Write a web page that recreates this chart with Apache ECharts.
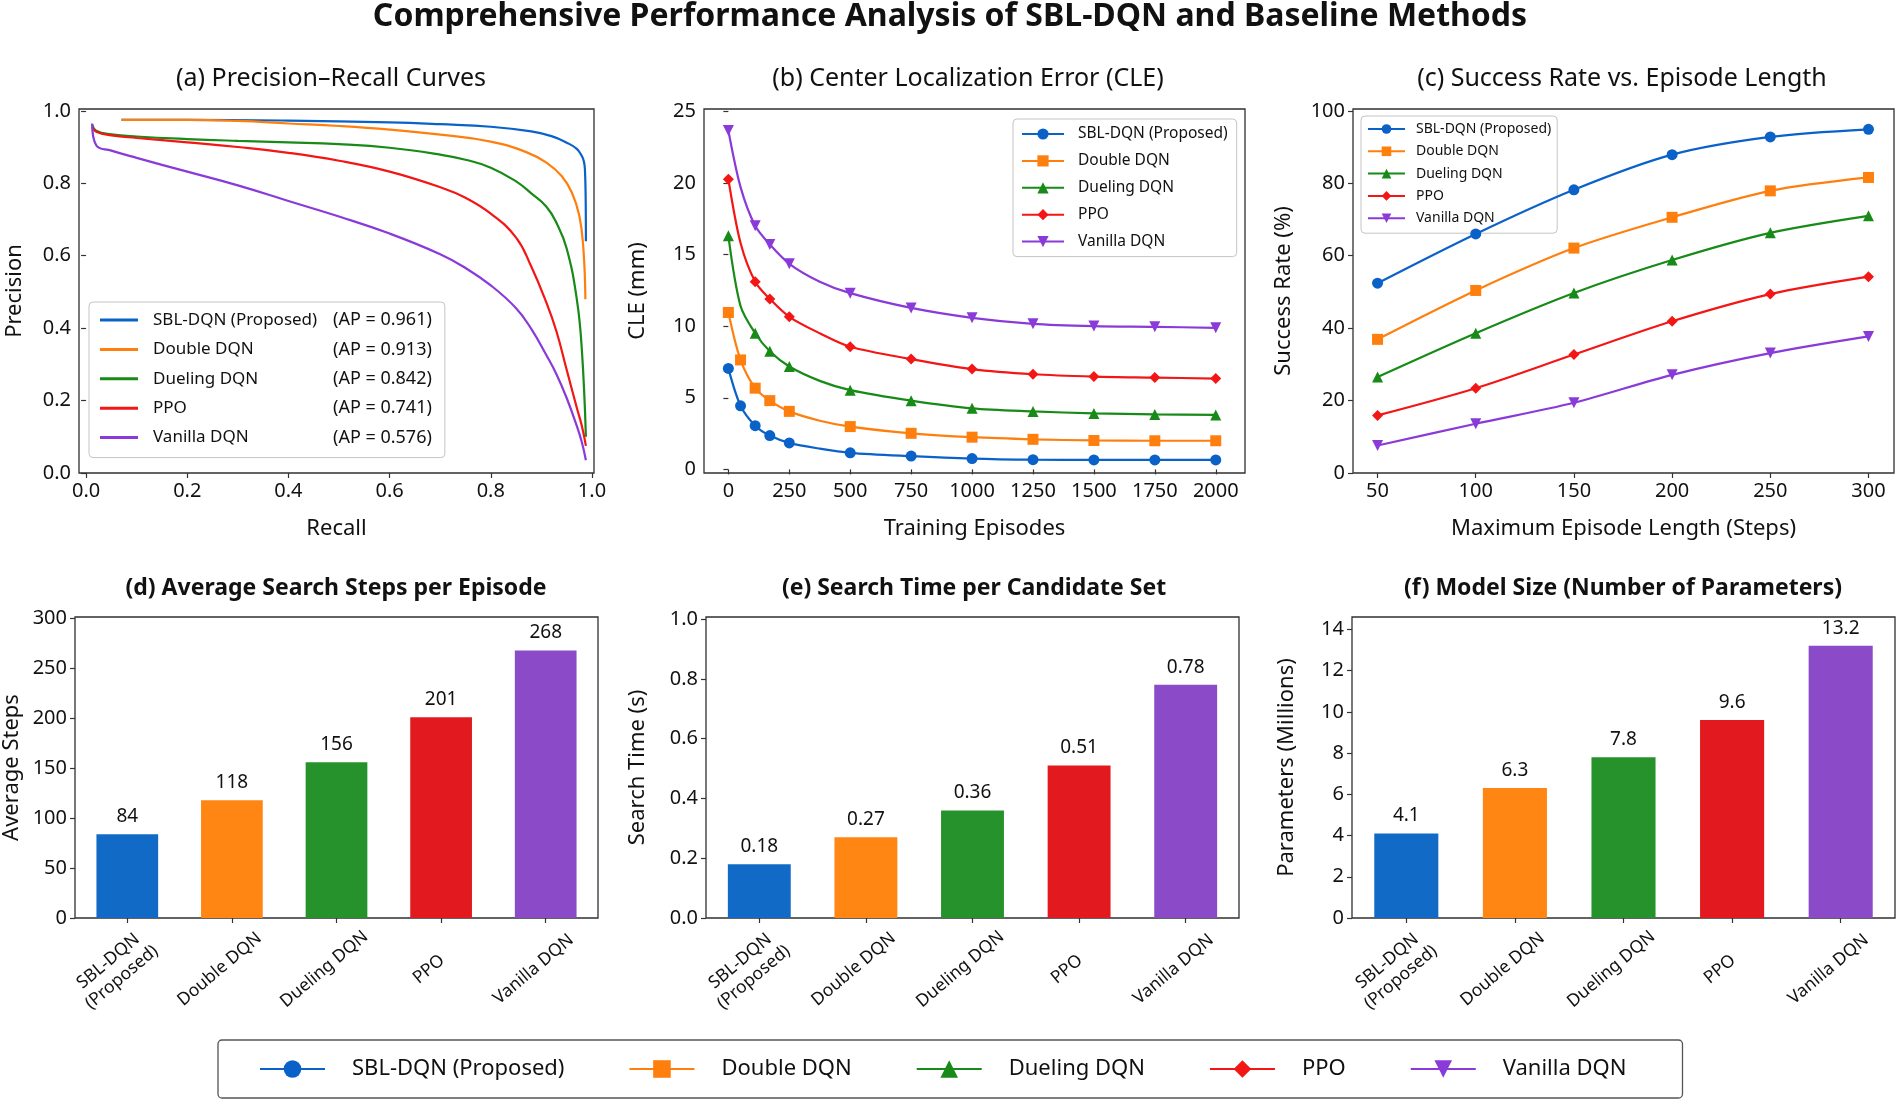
<!DOCTYPE html>
<html>
<head>
<meta charset="utf-8">
<title>SBL-DQN performance analysis</title>
<script src="https://cdn.jsdelivr.net/npm/echarts@6/dist/echarts.min.js"></script>
<style>
    html, body { margin: 0; padding: 0; background: #fff; }
    #chart { width: 1900px; height: 1103px; }
</style>
</head>
<body>
<div id="chart"></div>
<script>
// method names, shared by every panel
var methods = ['SBL-DQN (Proposed)', 'Double DQN', 'Dueling DQN', 'PPO', 'Vanilla DQN'];
var barLabels = ['SBL-DQN\n(Proposed)', 'Double DQN', 'Dueling DQN', 'PPO', 'Vanilla DQN'];
var apScores = ['0.961', '0.913', '0.842', '0.741', '0.576'];

// (a) precision - recall curves
var recallBlue = [0.07, 0.2, 0.4, 0.6, 0.7, 0.8, 0.88, 0.92, 0.95, 0.97, 0.98, 0.984, 0.986, 0.9875, 0.988];
var precisionBlue = [0.975, 0.975, 0.973, 0.968, 0.963, 0.956, 0.943, 0.93, 0.912, 0.895, 0.875, 0.86, 0.84, 0.76, 0.64];
var recallOrange = [0.07, 0.2, 0.3, 0.4, 0.5, 0.6, 0.7, 0.8, 0.87, 0.91, 0.94, 0.96, 0.975, 0.983, 0.987];
var precisionOrange = [0.975, 0.975, 0.972, 0.965, 0.958, 0.948, 0.934, 0.915, 0.886, 0.857, 0.82, 0.775, 0.71, 0.62, 0.48];
var recallBase = [0.012, 0.02, 0.05, 0.1, 0.2, 0.3, 0.4, 0.5, 0.6, 0.7, 0.75, 0.8, 0.85, 0.88, 0.91, 0.93, 0.95, 0.97, 0.98, 0.988];
var precisionGreen = [0.962, 0.945, 0.935, 0.929, 0.922, 0.917, 0.913, 0.908, 0.898, 0.879, 0.865, 0.843, 0.805, 0.772, 0.735, 0.69, 0.62, 0.48, 0.34, 0.1];
var precisionRed = [0.955, 0.942, 0.932, 0.925, 0.913, 0.9, 0.884, 0.862, 0.832, 0.789, 0.76, 0.716, 0.65, 0.57, 0.47, 0.39, 0.285, 0.18, 0.13, 0.075];
var precisionPurple = [0.965, 0.905, 0.89, 0.87, 0.832, 0.794, 0.751, 0.708, 0.661, 0.604, 0.566, 0.518, 0.455, 0.398, 0.325, 0.272, 0.207, 0.13, 0.085, 0.035];

// (b) center localization error
var cleEpisodes = [0, 50, 110, 170, 250, 375, 500, 750, 1000, 1250, 1500, 1750, 2000];
var cleBlue = [7.05, 4.44, 3.05, 2.36, 1.85, 1.45, 1.16, 0.93, 0.76, 0.68, 0.66, 0.66, 0.66];
var cleOrange = [10.95, 7.64, 5.67, 4.8, 4.05, 3.4, 2.99, 2.52, 2.25, 2.1, 2.02, 2.0, 2.0];
var cleGreen = [16.3, 11.4, 9.5, 8.24, 7.18, 6.18, 5.53, 4.8, 4.26, 4.05, 3.91, 3.84, 3.8];
var cleRed = [20.25, 15.8, 13.1, 11.9, 10.65, 9.5, 8.56, 7.7, 7.0, 6.64, 6.48, 6.41, 6.34];
var clePurple = [23.65, 19.7, 17.0, 15.7, 14.35, 13.1, 12.3, 11.27, 10.58, 10.16, 10.0, 9.95, 9.88];
// episodes where the curve has no marker
var cleUnmarked = [[375], [375], [50, 375], [50, 375], [50, 375]];

// (c) success rate
var episodeLengths = [50, 100, 150, 200, 250, 300];
var successBlue = [52.4, 66.0, 78.2, 87.9, 92.8, 94.9];
var successOrange = [36.9, 50.4, 62.1, 70.6, 77.9, 81.6];
var successGreen = [26.5, 38.6, 49.7, 58.8, 66.3, 71.0];
var successRed = [15.9, 23.4, 32.7, 41.9, 49.4, 54.2];
var successPurple = [7.6, 13.6, 19.4, 27.1, 33.1, 37.7];

// (d) (e) (f) bars
var avgSteps = [84, 118, 156, 201, 268];
var searchTime = [0.18, 0.27, 0.36, 0.51, 0.78];
var modelSize = [4.1, 6.3, 7.8, 9.6, 13.2];

// tick labels
var ticksRecall = [0, 0.2, 0.4, 0.6, 0.8, 1.0];
var ticksPrecision = [0, 0.2, 0.4, 0.6, 0.8, 1.0];
var ticksEpisodes = [0, 250, 500, 750, 1000, 1250, 1500, 1750, 2000];
var ticksCle = [0, 5, 10, 15, 20, 25];
var ticksLength = [50, 100, 150, 200, 250, 300];
var ticksSuccess = [0, 20, 40, 60, 80, 100];
var ticksSteps = [0, 50, 100, 150, 200, 250, 300];
var ticksTime = [0, 0.2, 0.4, 0.6, 0.8, 1.0];
var ticksParams = [0, 2, 4, 6, 8, 10, 12, 14];

// styles
var lineColors = ['#0a62c8', '#ff7f0e', '#178a17', '#f41515', '#8a3ad8'];
var barColors = ['#116bc6', '#ff8613', '#25922b', '#e2191f', '#8b4bc8'];
var symbols = ['circle', 'rect', 'triangle', 'diamond', 'triangle'];
var symbolRotates = [0, 0, 0, 0, 180];
var FONT = '"Noto Sans", "DejaVu Sans", sans-serif';

var grids = [
    {left: 79, top: 109, width: 515, height: 364},
    {left: 704, top: 109, width: 541, height: 364},
    {left: 1353, top: 109, width: 541, height: 364},
    {left: 75, top: 617, width: 523, height: 301},
    {left: 706, top: 617, width: 533, height: 301},
    {left: 1352, top: 617, width: 543, height: 301}
];
grids.forEach(function (g) {
    g.show = true;
    g.borderColor = '#303030';
    g.borderWidth = 1.3;
    g.backgroundColor = '#fff';
});

function fixed(n) {
    return function (v) { return n ? Number(v).toFixed(n) : String(v); };
}

function valueAxis(gridIndex, min, max, ticks, decimals, name, nameGap) {
    return {
        type: 'value',
        gridIndex: gridIndex,
        min: min,
        max: max,
        name: name,
        nameLocation: 'middle',
        nameGap: nameGap,
        nameTextStyle: {fontSize: 22, color: '#111', fontFamily: FONT},
        axisLine: {show: false},
        axisTick: {show: true, length: 5, customValues: ticks, lineStyle: {color: '#333', width: 1.2}},
        axisLabel: {customValues: ticks, fontSize: 20, color: '#111', margin: 8, fontFamily: FONT, formatter: fixed(decimals)},
        splitLine: {show: false}
    };
}

function categoryAxis(gridIndex) {
    return {
        type: 'category',
        gridIndex: gridIndex,
        data: barLabels,
        axisLine: {show: false},
        axisTick: {show: true, alignWithLabel: true, length: 5, lineStyle: {color: '#333', width: 1.2}},
        axisLabel: {
            interval: 0, rotate: 40, align: 'center', margin: 41, padding: [0, 32, 0, 0],
            fontSize: 17.5, color: '#111', fontFamily: FONT, lineHeight: 21
        }
    };
}

var xAxes = [
    valueAxis(0, -0.014, 1.004, ticksRecall, 1, 'Recall', 45),
    valueAxis(1, -100, 2120, ticksEpisodes, 0, 'Training Episodes', 45),
    valueAxis(2, 37.5, 313, ticksLength, 0, 'Maximum Episode Length (Steps)', 45),
    categoryAxis(3),
    categoryAxis(4),
    categoryAxis(5)
];
var yAxes = [
    valueAxis(0, 0, 1.005, ticksPrecision, 1, 'Precision', 53),
    valueAxis(1, -0.25, 25.15, ticksCle, 0, 'CLE (mm)', 55),
    valueAxis(2, 0, 100.5, ticksSuccess, 0, 'Success Rate (%)', 58),
    valueAxis(3, 0, 301.5, ticksSteps, 0, 'Average Steps', 52),
    valueAxis(4, 0, 1.007, ticksTime, 1, 'Search Time (s)', 57),
    valueAxis(5, 0, 14.6, ticksParams, 0, 'Parameters (Millions)', 54)
];

function pairs(xs, ys) {
    return xs.map(function (x, i) { return [x, ys[i]]; });
}

var series = [];

// (b) lines first, so the legends take their markers from them
var cleValues = [cleBlue, cleOrange, cleGreen, cleRed, clePurple];
cleValues.forEach(function (vals, k) {
    series.push({
        type: 'line',
        name: methods[k],
        xAxisIndex: 1,
        yAxisIndex: 1,
        data: cleEpisodes.map(function (x, i) {
            if (cleUnmarked[k].indexOf(x) >= 0) {
                return {value: [x, vals[i]], symbol: 'none'};
            }
            return [x, vals[i]];
        }),
        smooth: 0.3,
        symbol: symbols[k],
        symbolRotate: symbolRotates[k],
        symbolSize: 11,
        color: lineColors[k],
        lineStyle: {width: 2.2},
        z: 3 + k
    });
});

// (c)
var successValues = [successBlue, successOrange, successGreen, successRed, successPurple];
successValues.forEach(function (vals, k) {
    series.push({
        type: 'line',
        name: methods[k],
        xAxisIndex: 2,
        yAxisIndex: 2,
        data: pairs(episodeLengths, vals),
        smooth: 0.3,
        symbol: symbols[k],
        symbolRotate: symbolRotates[k],
        symbolSize: 11,
        color: lineColors[k],
        lineStyle: {width: 2.2},
        z: 3 + k
    });
});

// (a)
var prCurves = [
    pairs(recallBlue, precisionBlue),
    pairs(recallOrange, precisionOrange),
    pairs(recallBase, precisionGreen),
    pairs(recallBase, precisionRed),
    pairs(recallBase, precisionPurple)
];
prCurves.forEach(function (pts, k) {
    series.push({
        type: 'line',
        name: methods[k],
        xAxisIndex: 0,
        yAxisIndex: 0,
        data: pts,
        smooth: 0.45,
        symbol: 'none',
        color: lineColors[k],
        lineStyle: {width: 2.2},
        z: 3 + k
    });
});

// (d) (e) (f)
var barSets = [
    {name: 'Average Steps', values: avgSteps, grid: 3},
    {name: 'Search Time', values: searchTime, grid: 4},
    {name: 'Parameters', values: modelSize, grid: 5}
];
barSets.forEach(function (b) {
    series.push({
        type: 'bar',
        name: b.name,
        xAxisIndex: b.grid,
        yAxisIndex: b.grid,
        data: b.values,
        barWidth: '59%',
        itemStyle: {
            color: function (p) { return barColors[p.dataIndex]; }
        },
        label: {
            show: true,
            position: 'top',
            distance: 8,
            fontSize: 19,
            color: '#111',
            fontFamily: FONT
        }
    });
});

// titles
var titles = [
    {text: 'Comprehensive Performance Analysis of SBL-DQN and Baseline Methods', left: 950, top: 1, size: 32, weight: 'bold'},
    {text: '(a) Precision\u2013Recall Curves', left: 331, top: 66, size: 25, weight: 'normal'},
    {text: '(b) Center Localization Error (CLE)', left: 968, top: 66, size: 25, weight: 'normal'},
    {text: '(c) Success Rate vs. Episode Length', left: 1622, top: 66, size: 25, weight: 'normal'},
    {text: '(d) Average Search Steps per Episode', left: 336, top: 577, size: 23, weight: 'bold'},
    {text: '(e) Search Time per Candidate Set', left: 974, top: 577, size: 23, weight: 'bold'},
    {text: '(f) Model Size (Number of Parameters)', left: 1623, top: 577, size: 23, weight: 'bold'}
].map(function (t) {
    return {
        text: t.text,
        left: t.left,
        top: t.top,
        textAlign: 'center',
        padding: 0,
        textStyle: {fontSize: t.size, fontWeight: t.weight, color: '#111', fontFamily: FONT}
    };
});

var legendBox = {
    backgroundColor: '#fff',
    borderColor: '#c4c4c4',
    borderWidth: 1,
    borderRadius: 4,
    selectedMode: false,
    orient: 'vertical'
};

function gapText(name) {
    return '{t|' + name + '}';
}

var legends = [
    // (a) with AP column
    Object.assign({}, legendBox, {
        data: methods,
        left: 89,
        top: 302,
        padding: [9, 13, 11, 11],
        icon: 'rect',
        itemWidth: 38,
        itemHeight: 3,
        itemGap: 11.4,
        formatter: function (name) {
            return '{n|' + name + '}{v|(AP = ' + apScores[methods.indexOf(name)] + ')}';
        },
        textStyle: {
            fontSize: 17, color: '#111', fontFamily: FONT, lineHeight: 18,
            rich: {
                n: {width: 180, padding: [0, 0, 0, 10], fontSize: 17, lineHeight: 18, fontFamily: FONT},
                v: {fontSize: 18, lineHeight: 18, fontFamily: FONT}
            }
        }
    }),
    // (b)
    Object.assign({}, legendBox, {
        data: methods,
        left: 1013,
        top: 119,
        padding: [6, 9, 6, 8],
        itemWidth: 42,
        itemHeight: 14,
        itemGap: 8.9,
        formatter: gapText,
        textStyle: {
            fontSize: 15.5, color: '#111', fontFamily: FONT, lineHeight: 18,
            rich: {t: {padding: [0, 0, 0, 9], fontSize: 15.5, lineHeight: 18, fontFamily: FONT}}
        }
    }),
    // (c), kept under the lines like the original
    Object.assign({}, legendBox, {
        data: methods,
        left: 1361,
        top: 116,
        z: 1,
        padding: [5, 6, 7, 6],
        itemWidth: 37,
        itemHeight: 12,
        itemGap: 6.3,
        formatter: gapText,
        textStyle: {
            fontSize: 14, color: '#111', fontFamily: FONT, lineHeight: 16,
            rich: {t: {padding: [0, 0, 0, 6], fontSize: 14, lineHeight: 16, fontFamily: FONT}}
        }
    }),
    // shared legend at the bottom
    Object.assign({}, legendBox, {
        data: methods,
        orient: 'horizontal',
        left: 218,
        top: 1040,
        padding: [18, 56, 18, 41],
        borderColor: '#555',
        borderWidth: 1.3,
        itemWidth: 65,
        itemHeight: 22,
        itemGap: 64,
        formatter: gapText,
        textStyle: {
            fontSize: 22, color: '#111', fontFamily: FONT, lineHeight: 22,
            rich: {t: {padding: [0, 0, 0, 22], fontSize: 22, lineHeight: 22, fontFamily: FONT}}
        }
    })
];

var chart = echarts.init(document.getElementById('chart'), null, {renderer: 'canvas'});
chart.setOption({
    backgroundColor: '#fff',
    animation: false,
    textStyle: {fontFamily: FONT},
    title: titles,
    legend: legends,
    grid: grids,
    xAxis: xAxes,
    yAxis: yAxes,
    series: series
});
</script>
</body>
</html>
